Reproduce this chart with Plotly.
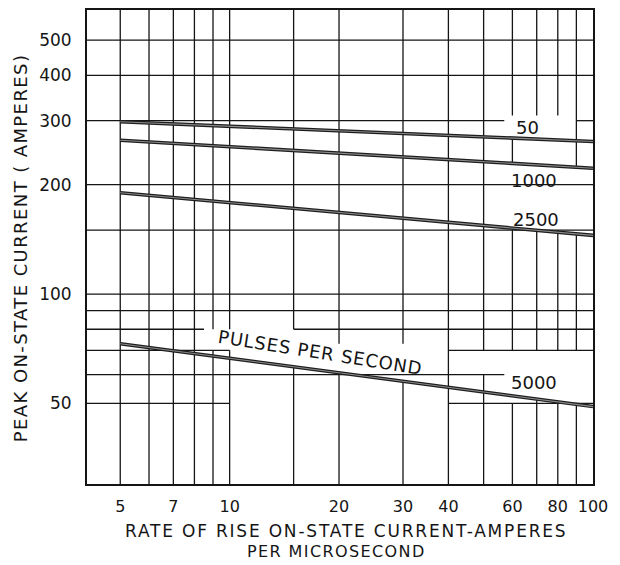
import math
import plotly.graph_objects as go

# ---------------- data ----------------
x_rate = [5, 100]                      # di/dt, A/us (line end points)
pps_labels = ["50", "1000", "2500", "5000"]
peak_50 = [298, 263]
peak_1000 = [265, 222]
peak_2500 = [190, 145]
peak_5000 = [73, 49]

x_tickvals = [5, 7, 10, 20, 30, 40, 60, 80, 100]
x_ticktext = ["5", "7", "10", "20", "30", "40", "60", "80", "100"]
y_tickvals = [50, 100, 200, 300, 400, 500]
y_ticktext = ["50", "100", "200", "300", "400", "500"]

X_MIN, X_MAX = 4.05, 100
Y_MIN, Y_MAX = 30, 605

# drafted grid (with the gaps left for the lettering)
v_grid = [
    (5, [(Y_MIN, Y_MAX)]),
    (6, [(Y_MIN, Y_MAX)]),
    (7, [(Y_MIN, Y_MAX)]),
    (8, [(Y_MIN, Y_MAX)]),
    (9, [(Y_MIN, 70), (80, Y_MAX)]),
    (10, [(Y_MIN, 70), (80, Y_MAX)]),
    (15, [(Y_MIN, 63), (80, Y_MAX)]),
    (20, [(Y_MIN, 61), (73, Y_MAX)]),
    (30, [(Y_MIN, 58), (73, Y_MAX)]),
    (40, [(Y_MIN, Y_MAX)]),
    (50, [(Y_MIN, 60), (70, Y_MAX)]),
    (60, [(Y_MIN, 50), (70, 150), (229, 269), (310, Y_MAX)]),
    (70, [(Y_MIN, 51), (70, 150), (310, Y_MAX)]),
    (80, [(Y_MIN, 50), (70, 150), (310, Y_MAX)]),
    (90, [(Y_MIN, 49.5), (70, 146), (224, Y_MAX)]),
]
h_grid = [
    (50, [(X_MIN, 10), (40, X_MAX)]),
    (60, [(X_MIN, 57)]),
    (70, [(X_MIN, 10), (40, X_MAX)]),
    (80, [(X_MIN, 8.5), (15, X_MAX)]),
    (90, [(X_MIN, X_MAX)]),
    (100, [(X_MIN, X_MAX)]),
    (150, [(X_MIN, X_MAX)]),
    (200, [(X_MIN, X_MAX)]),
    (300, [(X_MIN, 57), (90, X_MAX)]),
    (400, [(X_MIN, X_MAX)]),
    (500, [(X_MIN, X_MAX)]),
]

FONT = "DejaVu Sans"
INK = "#151515"

fig = go.Figure()

# grid
gx, gy = [], []
for xv, segs in v_grid:
    for y0, y1 in segs:
        gx += [xv, xv, None]
        gy += [y0, y1, None]
for yv, segs in h_grid:
    for x0, x1 in segs:
        gx += [x0, x1, None]
        gy += [yv, yv, None]
fig.add_trace(go.Scatter(x=gx, y=gy, mode="lines",
                         line=dict(color=INK, width=1.3),
                         hoverinfo="skip", showlegend=False))

# curves
series = [peak_50, peak_1000, peak_2500, peak_5000]
for name, ys in zip(pps_labels, series):
    fig.add_trace(go.Scatter(x=x_rate, y=ys, mode="lines", name=name,
                             line=dict(color="#1e1e1e", width=3.6),
                             showlegend=False))
    fig.add_trace(go.Scatter(x=x_rate, y=ys, mode="lines", name=name,
                             line=dict(color="#8c8c8c", width=1.1),
                             hoverinfo="skip", showlegend=False))

L = math.log10
def sp(t, ls):
    return '<span style="letter-spacing:%spx">%s</span>' % (ls, t)

ann = []
# curve labels
label_pos = [(66, 287), (69, 205), (69.5, 160), (69, 57)]
for txt, (ax_, ay_) in zip(pps_labels, label_pos):
    ann.append(dict(x=L(ax_), y=L(ay_), xref="x", yref="y", text=txt,
                    showarrow=False, xanchor="center", yanchor="middle",
                    font=dict(family=FONT, size=18, color=INK)))
ann.append(dict(x=L(17.8), y=L(68.9), xref="x", yref="y",
                text=sp("PULSES PER SECOND", 0.9), textangle=9,
                showarrow=False, font=dict(family=FONT, size=18, color=INK)))
# axis titles
ann.append(dict(x=0.512, y=-0.099, xref="paper", yref="paper",
                text=sp("RATE OF RISE ON-STATE CURRENT-AMPERES", 1.8),
                showarrow=False, xanchor="center", yanchor="middle",
                font=dict(family=FONT, size=17, color=INK)))
ann.append(dict(x=0.494, y=-0.142, xref="paper", yref="paper",
                text=sp("PER MICROSECOND", 1.4),
                showarrow=False, xanchor="center", yanchor="middle",
                font=dict(family=FONT, size=16, color=INK)))
ann.append(dict(x=-0.130, y=0.498, xref="paper", yref="paper",
                text=sp("PEAK ON-STATE CURRENT ( AMPERES)", 1.4),
                textangle=-90, showarrow=False,
                xanchor="center", yanchor="middle",
                font=dict(family=FONT, size=18, color=INK)))

fig.update_layout(
    width=620, height=565,
    margin=dict(l=87, r=27, t=8, b=81),
    paper_bgcolor="white", plot_bgcolor="white",
    annotations=ann,
    xaxis=dict(type="log", range=[L(X_MIN), L(X_MAX)],
               tickvals=x_tickvals, ticktext=x_ticktext,
               showgrid=False, zeroline=False, ticks="",
               showline=True, mirror=True, linecolor=INK, linewidth=2,
               ticklabelstandoff=7,
               tickfont=dict(family=FONT, size=16, color=INK)),
    yaxis=dict(type="log", range=[L(Y_MIN), L(Y_MAX)],
               tickvals=y_tickvals, ticktext=y_ticktext,
               showgrid=False, zeroline=False, ticks="",
               showline=True, mirror=True, linecolor=INK, linewidth=2,
               ticklabelstandoff=10,
               tickfont=dict(family=FONT, size=17, color=INK)),
)

fig.write_html("out.html")
